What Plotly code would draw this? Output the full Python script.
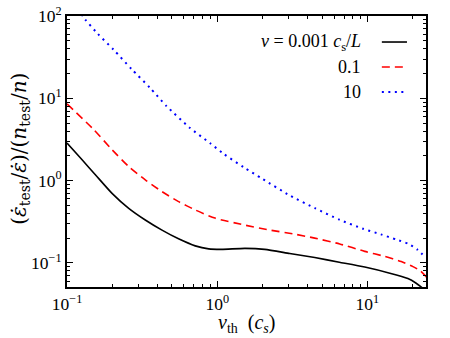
import plotly.graph_objects as go

# ---- data ----
x_black = [0.1, 0.126, 0.155, 0.1995, 0.2576, 0.332, 0.429, 0.553, 0.714, 0.877, 1.07, 1.53, 2.07, 3.04, 4.46, 6.5, 9.6, 14.1, 18.6, 21.0, 23.4, 25]
y_black = [2.86, 1.79, 1.17, 0.70, 0.46, 0.332, 0.25, 0.196, 0.161, 0.148, 0.146, 0.150, 0.146, 0.13, 0.116, 0.102, 0.089, 0.075, 0.0645, 0.057, 0.049, 0.044]

x_red = [0.1, 0.151, 0.1995, 0.2576, 0.332, 0.429, 0.553, 0.714, 0.966, 1.5, 2.2, 3.2, 4.46, 6.54, 9.6, 13.0, 16.8, 20.1, 22.5, 25]
y_red = [8.55, 4.15, 2.37, 1.48, 1.02, 0.734, 0.555, 0.44, 0.350, 0.290, 0.252, 0.225, 0.200, 0.170, 0.138, 0.120, 0.104, 0.090, 0.080, 0.066]

x_blue = [0.125, 0.132, 0.160, 0.204, 0.270, 0.357, 0.461, 0.659, 0.894, 1.11, 1.5, 2.0, 3.04, 4.5, 6.5, 9.35, 12.3, 15.6, 18.8, 21.5, 24.5]
y_blue = [105, 91, 61, 39, 22.5, 13.4, 8.0, 4.36, 2.86, 2.1, 1.45, 1.05, 0.66, 0.46, 0.335, 0.26, 0.222, 0.192, 0.17, 0.145, 0.115]

legend_labels = ["<i>ν</i> = 0.001 <i>c</i><sub>s</sub>/<i>L</i>", "0.1", "10"]
x_title = "<i>v</i><sub>th</sub>  (<i>c<sub>s</sub></i>)"
y_title = "(<i>ε̇</i><sub>test</sub>/<i>ε̇</i>)/(<i>n</i><sub>test</sub>/<i>n</i>)"
x_ticks = [0.1, 1, 10]
x_ticktext = ["10<sup>−1</sup>", "10<sup>0</sup>", "10<sup>1</sup>"]
y_ticks = [0.1, 1, 10, 100]
y_ticktext = ["10<sup>−1</sup>", "10<sup>0</sup>", "10<sup>1</sup>", "10<sup>2</sup>"]
x_minor = [d * m for d in (0.1, 1, 10) for m in range(2, 10) if d * m < 25]
y_minor = [d * m for d in (0.01, 0.1, 1, 10) for m in range(2, 10) if 0.05 < d * m < 100]

FONT = "Liberation Serif, Times New Roman, serif"
FONT2 = "DejaVu Serif, serif"
colors = ["black", "red", "blue"]
dashes = ["solid", "8px,5px", "2px,4.5px"]
widths = [1.6, 1.6, 2.0]

fig = go.Figure()
for xs, ys, c, d, w, name in zip((x_black, x_red, x_blue), (y_black, y_red, y_blue),
                                 colors, dashes, widths, legend_labels):
    fig.add_trace(go.Scatter(x=xs, y=ys, mode="lines", name=name, showlegend=False,
                             line=dict(color=c, dash=d, width=w, shape="spline", smoothing=0.6)))

# manual legend (text left, sample line right, as in the reference)
row_y = [0.904, 0.812, 0.720]
for lab, c, d, w, yy in zip(legend_labels, colors, dashes, widths, row_y):
    fig.add_annotation(x=0.822, y=yy, xref="paper", yref="paper", text=lab,
                       showarrow=False, xanchor="right", yanchor="middle", borderpad=0,
                       font=dict(family=FONT, size=18, color="black"))
    fig.add_shape(type="line", xref="paper", yref="paper", x0=0.877, x1=0.947, y0=yy, y1=yy,
                  line=dict(color=c, dash=d, width=w))

# axis titles
fig.add_annotation(x=0.501, y=-0.185, xref="paper", yref="paper", text=x_title, showarrow=False,
                   xanchor="center", yanchor="bottom", borderpad=0,
                   font=dict(family=FONT, size=20, color="black"))
fig.add_annotation(x=-0.131, y=0.51, xref="paper", yref="paper", text=y_title, showarrow=False,
                   textangle=-90, xanchor="center", yanchor="middle",
                   font=dict(family=FONT2, size=20, color="black"))

axis_common = dict(
    type="log", showgrid=False, zeroline=False, showline=True, linecolor="black", linewidth=1.8,
    mirror="allticks", ticks="inside", ticklen=6, tickwidth=1, tickcolor="black",
    tickmode="array", tickfont=dict(family=FONT, size=17.5, color="black"), automargin=False,
)
fig.update_xaxes(**axis_common, range=[-1, 1.39], tickvals=x_ticks, ticktext=x_ticktext,
                 minor=dict(tickmode="array", tickvals=x_minor, ticks="inside", ticklen=3,
                            tickwidth=1, tickcolor="black", showgrid=False))
fig.update_yaxes(**axis_common, range=[-1.293, 2], tickvals=y_ticks, ticktext=y_ticktext,
                 minor=dict(tickmode="array", tickvals=y_minor, ticks="inside", ticklen=3,
                            tickwidth=1, tickcolor="black", showgrid=False))

fig.update_layout(width=450, height=338, margin=dict(l=67, r=24, t=16, b=51),
                  plot_bgcolor="white", paper_bgcolor="white", showlegend=False)

fig.write_html("out.html", config={"displayModeBar": False},
               post_script="document.body.style.margin='0';document.body.style.overflow='hidden';")
